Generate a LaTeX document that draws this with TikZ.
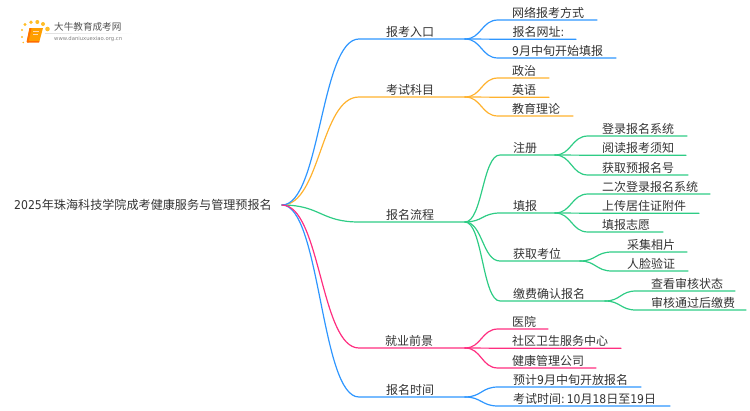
\documentclass[tikz,border=0pt]{standalone}
\usepackage{fontspec}
\setmainfont{Noto Sans CJK SC}
\newfontfamily\latn{DejaVu Sans}
\newfontfamily\latc{DejaVu Sans Condensed}
\newcommand{\ltn}[1]{{\latc #1}}
\usetikzlibrary{calc}
\definecolor{cblue}{HTML}{2E96FF}
\definecolor{corange}{HTML}{FFB22E}
\definecolor{cgreen}{HTML}{2ECC85}
\definecolor{cpink}{HTML}{FF2E80}
\definecolor{ctext}{HTML}{333333}
\tikzset{
  txt/.style={anchor=base west,inner sep=0pt,text=ctext,font=\fontsize{12}{14}\selectfont},
  conn/.style={line width=1.2pt,line cap=round}
}
\newcommand{\lnk}[5][]{\draw[conn,#2,#1] (#3) .. controls ($(#3)!0.5!(#3-|#4)$) and ($(#4)!0.5!(#4-|#3)$) .. (#4) -- (#5);}
\newcommand{\leaf}[6]{% name, text x, line y, curve-end x, line-end x, text
  \coordinate (#1c) at (#4,#3);
  \coordinate (#1e) at (#5,#3);
  \node[txt] (#1) at (#2,#3-3) {#6};
}
\begin{document}
\begin{tikzpicture}[x=1pt,y=-1pt]
\useasboundingbox (0,0) rectangle (750,410);
% logo
\foreach \px/\py/\pr in {22/30/1.2,25/24.5/1.7,31/22.3/1.9,37.3/22/2,43/24/2,47.5/29/2.3,22/37/1.2,23.3/42.5/0.9}
  \fill[corange!85!yellow] (\px,\py) circle (\pr);
\fill[orange!75!yellow] (29.5,28) -- (43,28) -- (39.5,41) -- (27,41) -- cycle;
\fill[orange!90!red] (29.5,28) -- (31.5,28) -- (28.5,42.5) -- (26.5,42) -- cycle;
\fill[orange!85!red] (27,41) -- (39.5,41) -- (39,42.5) -- (27,42.5) -- cycle;
\fill[white!70!orange] (33,31) rectangle (39,32);
\fill[white!70!orange] (32.5,33.5) rectangle (38,34.3);
\shade[left color=gray!25,right color=white] (45,33.2) rectangle (133,33.8);
\node[anchor=base west,inner sep=0pt,text=ctext!85!white,font=\fontsize{9.6}{11}\selectfont] (logotitle) at (54,30.5) {大牛教育成考网};
\node[anchor=base west,inner sep=0pt,text=gray,font=\latn\fontsize{5.3}{6}\selectfont] (logourl) at (54,40.5) {www.daniuxuexiao.org.cn};
% root
\node[txt,font=\fontsize{12.1}{14}\selectfont] (root) at (14,209.5) {\ltn{2025}年珠海科技学院成考健康服务与管理预报名};
\coordinate (r) at (282,205);
% level 1
\leaf{a}{386}{39}{359}{465}{报考入口}
\leaf{b}{386}{97}{359}{465}{考试科目}
\leaf{c}{386}{222}{359}{465}{报名流程}
\leaf{d}{385}{348}{359}{465}{就业前景}
\leaf{e}{386}{397}{359}{465}{报名时间}
\coordinate (aj) at (465,39);\coordinate (bj) at (465,97);\coordinate (cj) at (465,222);\coordinate (dj) at (465,348);\coordinate (ej) at (465,397);
% level 2
\leaf{a1}{512}{20}{498}{597}{网络报考方式}
\leaf{a2}{512.5}{39.2}{498}{576}{报名网址\ltn{:}}
\leaf{a3}{512}{58}{498}{616}{\ltn{9}月中旬开始填报}
\leaf{b1}{512}{78}{498}{549}{政治}
\leaf{b2}{512}{97.2}{498}{549}{英语}
\leaf{b3}{512}{116}{498}{573}{教育理论}
\leaf{c1}{513}{155}{500}{555}{注册}
\leaf{c2}{513}{213}{500}{555}{填报}
\leaf{c3}{513}{261}{500}{580}{获取考位}
\leaf{c4}{513}{301}{500}{605}{缴费确认报名}
\leaf{d1}{512}{329}{498}{548}{医院}
\leaf{d2}{512}{348.2}{498}{621}{社区卫生服务中心}
\leaf{d3}{512}{368}{498}{596}{健康管理公司}
\leaf{e1}{513}{387}{498}{641}{预计\ltn{9}月中旬开放报名}
\leaf{e2}{513}{406}{498}{670}{考试时间\ltn{:}\hspace{2pt}\ltn{10}月\ltn{18}日至\ltn{19}日}
% level 3
\coordinate (c1j) at (555,155);\coordinate (c2j) at (555,213);\coordinate (c3j) at (580,261);\coordinate (c4j) at (605,301);
\leaf{f1}{602}{136}{588}{687}{登录报名系统}
\leaf{f2}{602}{155.2}{588}{686}{阅读报考须知}
\leaf{f3}{602}{175}{588}{688}{获取预报名号}
\leaf{g1}{602}{194}{588}{710}{二次登录报名系统}
\leaf{g2}{602}{213.2}{588}{699}{上传居住证附件}
\leaf{g3}{602}{232}{588}{663}{填报志愿}
\leaf{h1}{627}{252}{612}{687}{采集相片}
\leaf{h2}{627}{271}{612}{688}{人脸验证}
\leaf{i1}{651}{291}{636}{735}{查看审核状态}
\leaf{i2}{651}{310}{636}{746}{审核通过后缴费}
% connectors
\lnk{cgreen}{r}{cc}{ce}
\lnk{cgreen}{cj}{c1c}{c1e}
\lnk{cgreen}{cj}{c2c}{c2e}
\lnk{cgreen}{cj}{c3c}{c3e}
\lnk{cgreen}{cj}{c4c}{c4e}
\foreach \s/\j in {f1/c1j,f2/c1j,f3/c1j,g1/c2j,g2/c2j,g3/c2j,h1/c3j,h2/c3j,i1/c4j,i2/c4j}{
  \lnk{cgreen}{\j}{\s c}{\s e}
}
\lnk{corange}{r}{bc}{be}
\foreach \s in {b1,b2,b3}{\lnk{corange}{bj}{\s c}{\s e}}
\lnk{cblue}{r}{ac}{ae}
\foreach \s in {a1,a2,a3}{\lnk{cblue}{aj}{\s c}{\s e}}
\lnk{cblue}{r}{ec}{ee}
\foreach \s in {e1,e2}{\lnk{cblue}{ej}{\s c}{\s e}}
\lnk{cpink}{r}{dc}{de}
\foreach \s in {d1,d2,d3}{\lnk{cpink}{dj}{\s c}{\s e}}
\end{tikzpicture}
\end{document}
